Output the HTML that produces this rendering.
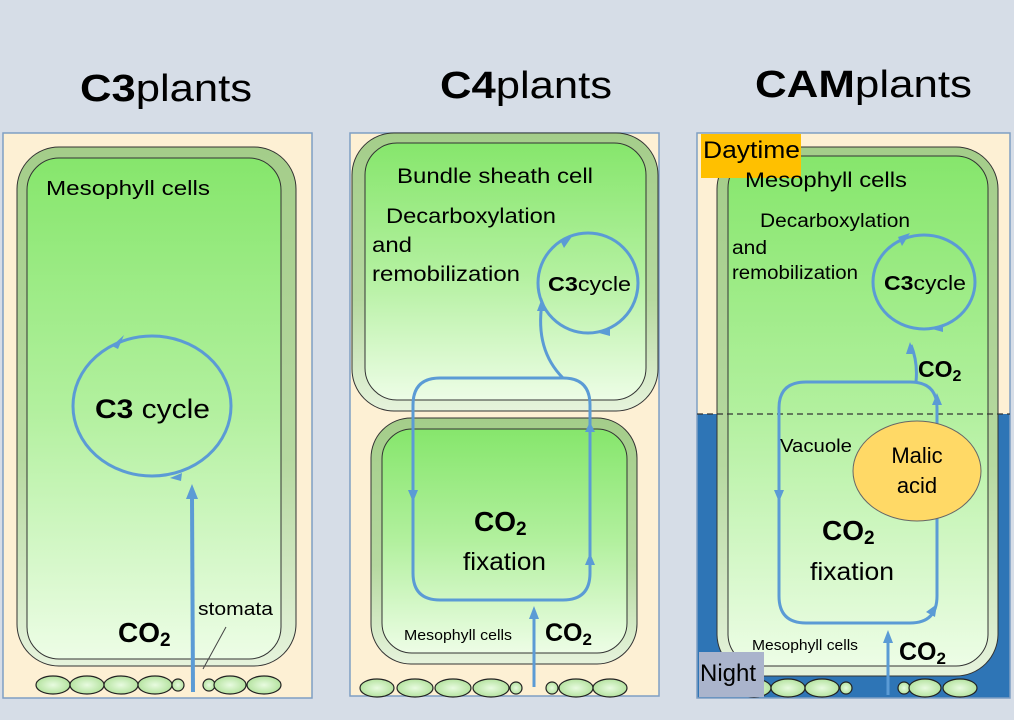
<!DOCTYPE html>
<html><head><meta charset="utf-8"><style>
html,body{margin:0;padding:0;background:#d6dde7;}
svg{display:block;font-family:"Liberation Sans",sans-serif;}
</style></head><body>
<svg width="1014" height="720" viewBox="0 0 1014 720" xmlns="http://www.w3.org/2000/svg">
<defs>
<linearGradient id="g" x1="0" y1="0" x2="0" y2="1"><stop offset="0" stop-color="#86e66c"/><stop offset="0.5" stop-color="#b2f09e"/><stop offset="1" stop-color="#edfde6"/></linearGradient>
<linearGradient id="go" x1="0" y1="0" x2="0" y2="1"><stop offset="0" stop-color="#a4cd8a"/><stop offset="0.6" stop-color="#b6d9a0"/><stop offset="1" stop-color="#e6f3dc"/></linearGradient>
<radialGradient id="st"><stop offset="0" stop-color="#e8fbe0"/><stop offset="1" stop-color="#b5e3a0"/></radialGradient>
</defs>
<rect width="1014" height="720" fill="#d6dde7"/>
<!-- titles -->
<text x="80" y="101" font-size="38" textLength="172" lengthAdjust="spacingAndGlyphs"><tspan font-weight="bold">C3</tspan>plants</text>
<text x="440" y="98" font-size="38" textLength="172" lengthAdjust="spacingAndGlyphs"><tspan font-weight="bold">C4</tspan>plants</text>
<text x="755" y="97" font-size="38" textLength="217" lengthAdjust="spacingAndGlyphs"><tspan font-weight="bold">CAM</tspan>plants</text>

<!-- Panel 1 -->
<rect x="3" y="133" width="309" height="565" fill="#fdf0d4" stroke="#7f9fc4" stroke-width="1.5"/>
<rect x="17" y="147" width="279" height="519" rx="42" fill="url(#go)" stroke="#333" stroke-width="1"/>
<rect x="27" y="158" width="254" height="501" rx="32" fill="url(#g)" stroke="#333" stroke-width="1"/>
<text x="46" y="195" font-size="20" textLength="164" lengthAdjust="spacingAndGlyphs">Mesophyll cells</text>
<ellipse cx="152" cy="406" rx="79" ry="70" fill="none" stroke="#5b9bd5" stroke-width="3"/>
<path d="M112,346 L124,335 L118,349z" fill="#5b9bd5"/>
<path d="M182,473 L170,478 L181,481z" fill="#5b9bd5"/>
<text x="95" y="418" font-size="27" textLength="115" lengthAdjust="spacingAndGlyphs"><tspan font-weight="bold">C3</tspan> cycle</text>
<line x1="193" y1="692" x2="192" y2="498" stroke="#5b9bd5" stroke-width="4"/>
<path d="M186,499 L192,484 L198,499z" fill="#5b9bd5"/>
<text x="118" y="642" font-size="28" font-weight="bold">CO<tspan font-size="19" dy="4">2</tspan></text>
<text x="198" y="615" font-size="18" textLength="75" lengthAdjust="spacingAndGlyphs">stomata</text>
<line x1="226" y1="627" x2="203" y2="669" stroke="#444" stroke-width="1"/>
<g fill="url(#st)" stroke="#222" stroke-width="1.2">
<ellipse cx="53" cy="685" rx="17" ry="9"/><ellipse cx="87" cy="685" rx="17" ry="9"/><ellipse cx="121" cy="685" rx="17" ry="9"/><ellipse cx="155" cy="685" rx="17" ry="9"/><circle cx="178" cy="685" r="6"/><circle cx="209" cy="685" r="6"/><ellipse cx="230" cy="685" rx="16" ry="9"/><ellipse cx="264" cy="685" rx="17" ry="9"/>
</g>

<!-- Panel 2 -->
<rect x="350" y="133" width="309" height="563" fill="#fdf0d4" stroke="#7f9fc4" stroke-width="1.5"/>
<rect x="352" y="133" width="306" height="278" rx="42" fill="url(#go)" stroke="#333" stroke-width="1"/>
<rect x="365" y="143" width="281" height="257" rx="32" fill="url(#g)" stroke="#333" stroke-width="1"/>
<rect x="371" y="418" width="266" height="246" rx="40" fill="url(#go)" stroke="#333" stroke-width="1"/>
<rect x="382" y="429" width="245" height="224" rx="30" fill="url(#g)" stroke="#333" stroke-width="1"/>
<text x="397" y="183" font-size="21" textLength="196" lengthAdjust="spacingAndGlyphs">Bundle sheath cell</text>
<text x="386" y="223" font-size="21" textLength="170" lengthAdjust="spacingAndGlyphs">Decarboxylation</text>
<text x="372" y="252" font-size="21" textLength="40" lengthAdjust="spacingAndGlyphs">and</text>
<text x="372" y="281" font-size="21" textLength="148" lengthAdjust="spacingAndGlyphs">remobilization</text>
<ellipse cx="588" cy="283" rx="50" ry="50" fill="none" stroke="#5b9bd5" stroke-width="3"/>
<path d="M561,242 L573,235 L564,248z" fill="#5b9bd5"/>
<path d="M610,328 L599,333 L610,336z" fill="#5b9bd5"/>
<text x="548" y="291" font-size="20" textLength="83" lengthAdjust="spacingAndGlyphs"><tspan font-weight="bold">C3</tspan>cycle</text>
<path d="M413,500 L413,405 Q413,378 440,378 L563,378 Q590,378 590,405 L590,573 Q590,600 563,600 L440,600 Q413,600 413,573 Z" fill="none" stroke="#5b9bd5" stroke-width="3"/>
<path d="M563,378 Q535,350 542,303" fill="none" stroke="#5b9bd5" stroke-width="3"/>
<path d="M537,311 L542,298 L547,311z" fill="#5b9bd5"/>
<path d="M408,490 L413,502 L418,490z" fill="#5b9bd5"/>
<path d="M585,565 L590,553 L595,565z" fill="#5b9bd5"/>
<path d="M585,432 L590,422 L595,432z" fill="#5b9bd5"/>
<text x="474" y="531" font-size="28" font-weight="bold">CO<tspan font-size="19" dy="4">2</tspan></text>
<text x="463" y="570" font-size="25" textLength="83" lengthAdjust="spacingAndGlyphs">fixation</text>
<line x1="534" y1="687" x2="534" y2="617" stroke="#5b9bd5" stroke-width="3"/>
<path d="M529,619 L534,606 L539,619z" fill="#5b9bd5"/>
<text x="404" y="640" font-size="15" textLength="108" lengthAdjust="spacingAndGlyphs">Mesophyll  cells</text>
<text x="545" y="641" font-size="25" font-weight="bold">CO<tspan font-size="17" dy="4">2</tspan></text>
<g fill="url(#st)" stroke="#222" stroke-width="1.2">
<ellipse cx="377" cy="688" rx="17" ry="9"/><ellipse cx="415" cy="688" rx="18" ry="9"/><ellipse cx="453" cy="688" rx="18" ry="9"/><ellipse cx="491" cy="688" rx="18" ry="9"/><circle cx="516" cy="688" r="6"/><circle cx="552" cy="688" r="6"/><ellipse cx="576" cy="688" rx="17" ry="9"/><ellipse cx="610" cy="688" rx="17" ry="9"/>
</g>

<!-- Panel 3 -->
<rect x="697" y="133" width="313" height="281" fill="#fdf0d4"/>
<rect x="697" y="414" width="313" height="284" fill="#2e75b6"/>
<rect x="697" y="133" width="313" height="565" fill="none" stroke="#7f9fc4" stroke-width="1.5"/>
<rect x="717" y="147" width="281" height="529" rx="42" fill="url(#go)" stroke="#333" stroke-width="1"/>
<rect x="728" y="156" width="260" height="510" rx="32" fill="url(#g)" stroke="#333" stroke-width="1"/>
<line x1="697" y1="414" x2="1010" y2="414" stroke="#333" stroke-width="1.2" stroke-dasharray="6,4"/>
<rect x="701" y="134" width="100" height="44" fill="#ffc000"/>
<text x="703" y="158" font-size="24" textLength="97" lengthAdjust="spacingAndGlyphs">Daytime</text>
<text x="745" y="187" font-size="21" textLength="162" lengthAdjust="spacingAndGlyphs">Mesophyll cells</text>
<text x="760" y="227" font-size="19" textLength="150" lengthAdjust="spacingAndGlyphs">Decarboxylation</text>
<text x="732" y="254" font-size="19" textLength="35" lengthAdjust="spacingAndGlyphs">and</text>
<text x="732" y="279" font-size="19" textLength="126" lengthAdjust="spacingAndGlyphs">remobilization</text>
<ellipse cx="924" cy="282" rx="51" ry="47" fill="none" stroke="#5b9bd5" stroke-width="3"/>
<path d="M898,237 L910,233 L902,246z" fill="#5b9bd5"/>
<path d="M943,324 L932,329 L943,332z" fill="#5b9bd5"/>
<text x="884" y="290" font-size="20" textLength="82" lengthAdjust="spacingAndGlyphs"><tspan font-weight="bold">C3</tspan>cycle</text>
<path d="M779,500 L779,408 Q779,382 806,382 L910,382 Q937,382 937,408 L937,596 Q937,623 910,623 L806,623 Q779,623 779,596 Z" fill="none" stroke="#5b9bd5" stroke-width="3"/>
<path d="M916,382 Q918,362 911,345" fill="none" stroke="#5b9bd5" stroke-width="3"/>
<path d="M906,354 L910,342 L915,354z" fill="#5b9bd5"/>
<path d="M774,490 L779,502 L784,490z" fill="#5b9bd5"/>
<path d="M932,405 L937,393 L942,405z" fill="#5b9bd5"/>
<path d="M926,612 L937,604 L935,617z" fill="#5b9bd5"/>
<ellipse cx="917" cy="471" rx="64" ry="50" fill="#ffd966" stroke="#666" stroke-width="1"/>
<text x="917" y="463" font-size="22" text-anchor="middle">Malic</text>
<text x="917" y="493" font-size="22" text-anchor="middle">acid</text>
<text x="780" y="452" font-size="18" textLength="72" lengthAdjust="spacingAndGlyphs">Vacuole</text>
<text x="918" y="377" font-size="23" font-weight="bold">CO<tspan font-size="16" dy="4">2</tspan></text>
<text x="822" y="540" font-size="28" font-weight="bold">CO<tspan font-size="19" dy="4">2</tspan></text>
<text x="810" y="580" font-size="25" textLength="84" lengthAdjust="spacingAndGlyphs">fixation</text>
<line x1="888" y1="695" x2="888" y2="642" stroke="#5b9bd5" stroke-width="3"/>
<path d="M883,643 L888,630 L893,643z" fill="#5b9bd5"/>
<text x="752" y="650" font-size="15" textLength="106" lengthAdjust="spacingAndGlyphs">Mesophyll  cells</text>
<text x="899" y="660" font-size="25" font-weight="bold">CO<tspan font-size="17" dy="4">2</tspan></text>
<g fill="url(#st)" stroke="#222" stroke-width="1.2">
<ellipse cx="754" cy="688" rx="17" ry="9"/><ellipse cx="788" cy="688" rx="17" ry="9"/><ellipse cx="822" cy="688" rx="17" ry="9"/><circle cx="846" cy="688" r="6"/><circle cx="904" cy="688" r="6"/><ellipse cx="925" cy="688" rx="16" ry="9"/><ellipse cx="960" cy="688" rx="17" ry="9"/>
</g>
<rect x="699" y="652" width="65" height="45" fill="#aab4cc"/>
<text x="700" y="681" font-size="24" textLength="56" lengthAdjust="spacingAndGlyphs">Night</text>
</svg>
</body></html>
